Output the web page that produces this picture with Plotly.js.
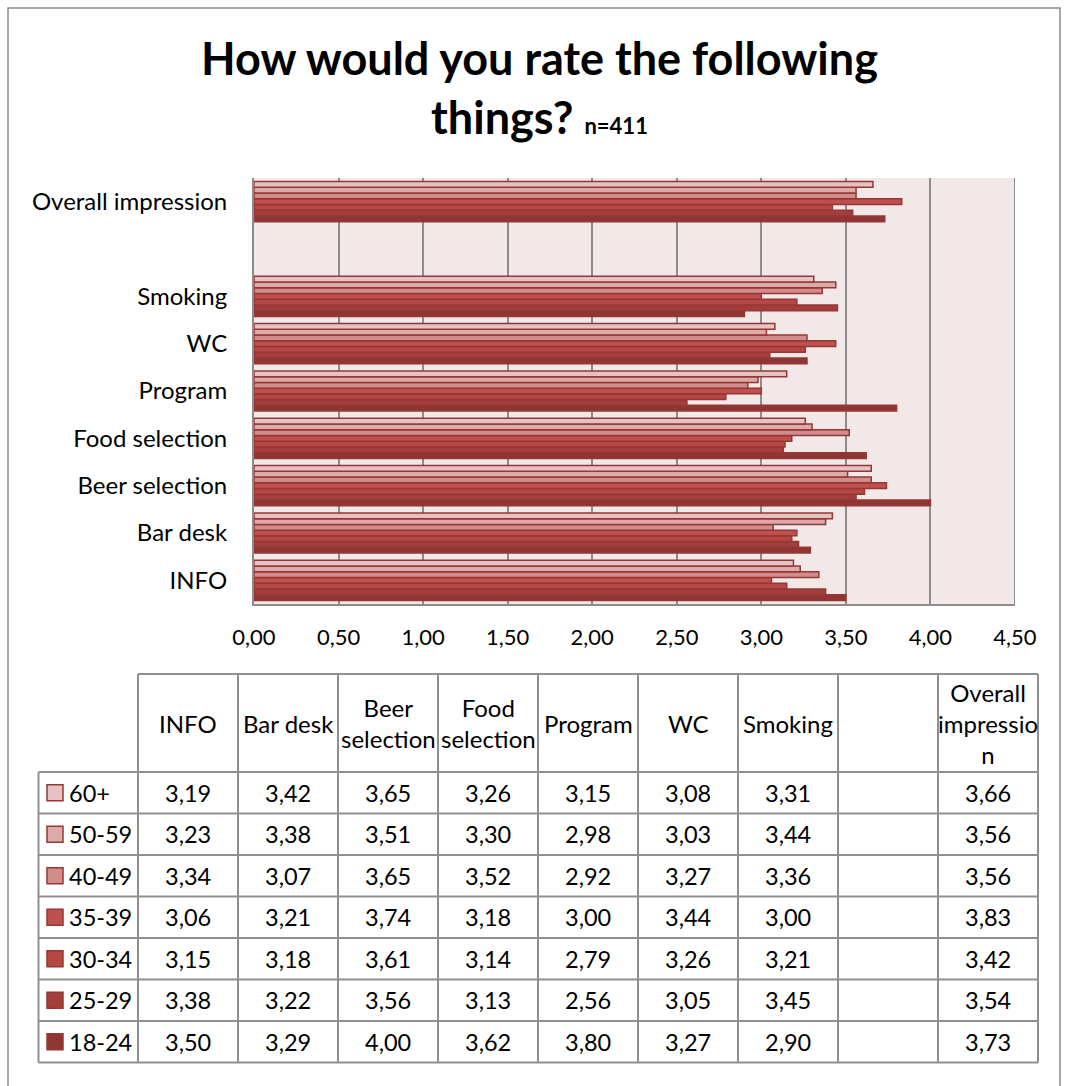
<!DOCTYPE html>
<html>
<head>
<meta charset="utf-8">
<script src="https://cdn.plot.ly/plotly-3.0.1.min.js"></script>
<style>
  html, body { margin: 0; padding: 0; background: #ffffff; }
  #chart { width: 1067px; height: 1086px; }
</style>
</head>
<body>
<div id="chart"></div>
<script>
// Survey categories, bottom to top on the chart (blank slot separates "Overall impression")
const categories = ['INFO', 'Bar desk', 'Beer selection', 'Food selection', 'Program', 'WC', 'Smoking', ' ', 'Overall impression'];
// Column headings of the data table (same order as categories)
const tableHeaders = ['INFO', 'Bar desk', 'Beer<br>selection', 'Food<br>selection', 'Program', 'WC', 'Smoking', '', 'Overall<br>impressio<br>n'];

// Age groups, as listed in the table (top row first)
const ageGroups = ['60+', '50-59', '40-49', '35-39', '30-34', '25-29', '18-24'];

// Average ratings per age group
const age60plus = [3.19, 3.42, 3.65, 3.26, 3.15, 3.08, 3.31, null, 3.66];
const age50to59 = [3.23, 3.38, 3.51, 3.30, 2.98, 3.03, 3.44, null, 3.56];
const age40to49 = [3.34, 3.07, 3.65, 3.52, 2.92, 3.27, 3.36, null, 3.56];
const age35to39 = [3.06, 3.21, 3.74, 3.18, 3.00, 3.44, 3.00, null, 3.83];
const age30to34 = [3.15, 3.18, 3.61, 3.14, 2.79, 3.26, 3.21, null, 3.42];
const age25to29 = [3.38, 3.22, 3.56, 3.13, 2.56, 3.05, 3.45, null, 3.54];
const age18to24 = [3.50, 3.29, 4.00, 3.62, 3.80, 3.27, 2.90, null, 3.73];

const seriesValues = [age60plus, age50to59, age40to49, age35to39, age30to34, age25to29, age18to24];
const seriesColors = ['#e6c3c3', '#dcaaa9', '#d18c8b', '#c0504d', '#b54845', '#a33e3c', '#8e3634'];
const edgeColor = '#953735';

const W = 1067, H = 1086;
const px = x => x / W;
const py = y => 1 - y / H;
const FONT = 'Lato, "Open Sans", sans-serif';
const gridGray = '#8c8c8c';

// Bars: first trace sits at the bottom of each group, so add 18-24 first
const traces = [];
for (let i = ageGroups.length - 1; i >= 0; i--) {
  traces.push({
    type: 'bar',
    orientation: 'h',
    name: ageGroups[i],
    y: categories,
    x: seriesValues[i],
    marker: { color: seriesColors[i], line: { color: edgeColor, width: 1.5 } },
    hoverinfo: 'x+y+name'
  });
}

// Data table below the chart: grid lines, legend keys and values
const shapes = [];
const annotations = [];
const tblLeft = 38.5, colStart = 138, colW = 100, tblRight = colStart + colW * categories.length;
const headTop = 674, headBottom = 772, rowH = 41.5;
const tblBottom = headBottom + rowH * ageGroups.length;
const tableLine = { color: '#8f8f8f', width: 2 };

function seg(x0, y0, x1, y1) {
  shapes.push({ type: 'line', xref: 'paper', yref: 'paper', x0: px(x0), y0: py(y0), x1: px(x1), y1: py(y1), line: tableLine });
}

seg(colStart, headTop, tblRight, headTop);
for (let r = 0; r <= ageGroups.length; r++) {
  const y = headBottom + rowH * r;
  seg(tblLeft, y, tblRight, y);
}
seg(tblLeft, headBottom, tblLeft, tblBottom);
for (let c = 0; c <= categories.length; c++) {
  const x = colStart + colW * c;
  seg(x, headTop, x, tblBottom);
}

tableHeaders.forEach((label, c) => {
  if (!label) return;
  annotations.push({
    xref: 'paper', yref: 'paper', x: px(colStart + colW * c + colW / 2), y: py((headTop + headBottom) / 2),
    xanchor: 'center', yanchor: 'middle', text: label, showarrow: false,
    font: { family: FONT, size: 24, color: '#000' }
  });
});

ageGroups.forEach((age, r) => {
  const yc = headBottom + rowH * r + rowH / 2;
  shapes.push({
    type: 'rect', xref: 'paper', yref: 'paper',
    x0: px(47), x1: px(63), y0: py(yc - 8), y1: py(yc + 8),
    fillcolor: seriesColors[r], line: { color: edgeColor, width: 1.5 }
  });
  annotations.push({
    xref: 'paper', yref: 'paper', x: px(67), y: py(yc), xanchor: 'left', yanchor: 'middle',
    text: age, showarrow: false, font: { family: FONT, size: 23.5, color: '#000' }
  });
  seriesValues[r].forEach((v, c) => {
    if (v === null) return;
    annotations.push({
      xref: 'paper', yref: 'paper', x: px(colStart + colW * c + colW / 2), y: py(yc),
      xanchor: 'center', yanchor: 'middle', text: v.toFixed(2).replace('.', ','), showarrow: false,
      font: { family: FONT, size: 23.5, color: '#000' }
    });
  });
});

// Gridline closing the plot area at the right end of the value axis
shapes.push({
  type: 'line', xref: 'x', yref: 'y domain', x0: 4.5, x1: 4.5, y0: 0, y1: 1,
  line: { color: gridGray, width: 2 }, layer: 'below'
});

// Outer chart frame
shapes.push({
  type: 'rect', xref: 'paper', yref: 'paper', x0: px(8), x1: px(1060), y0: py(1095), y1: py(8),
  line: { color: '#8a8a8a', width: 1.5 }, fillcolor: 'rgba(0,0,0,0)', layer: 'below'
});

const layout = {
  width: W, height: H,
  margin: { l: 0, r: 0, t: 0, b: 0 },
  paper_bgcolor: '#ffffff',
  plot_bgcolor: '#f2e8e8',
  showlegend: false,
  separators: ',.',
  barmode: 'group',
  bargap: 0.15,
  bargroupgap: 0,
  title: {
    text: 'How would you rate the following<br>things? <span style="font-size:22px">n=411</span>',
    x: 539.5 / W, xanchor: 'center',
    y: 1 - 75 / H, yanchor: 'top', yref: 'container',
    font: { family: FONT, size: 45, color: '#000', weight: 'bold' }
  },
  xaxis: {
    domain: [px(254), px(1015)],
    range: [0, 4.5], dtick: 0.5, tick0: 0, tickformat: '.2f',
    showgrid: true, gridcolor: gridGray, gridwidth: 2,
    showline: true, linecolor: gridGray, linewidth: 2,
    zeroline: false, ticks: '', ticklabelstandoff: 13,
    tickfont: { family: FONT, size: 22, color: '#000' },
    fixedrange: true, automargin: false
  },
  yaxis: {
    domain: [py(604), py(178)],
    type: 'category', categoryorder: 'array', categoryarray: categories,
    showgrid: false, showline: true, linecolor: gridGray, linewidth: 2,
    zeroline: false, ticks: '', ticklabelstandoff: 20,
    tickfont: { family: FONT, size: 24, color: '#000' },
    fixedrange: true, automargin: false
  },
  shapes: shapes,
  annotations: annotations
};

Plotly.newPlot('chart', traces, layout, { displayModeBar: false, staticPlot: true });
</script>
</body>
</html>
